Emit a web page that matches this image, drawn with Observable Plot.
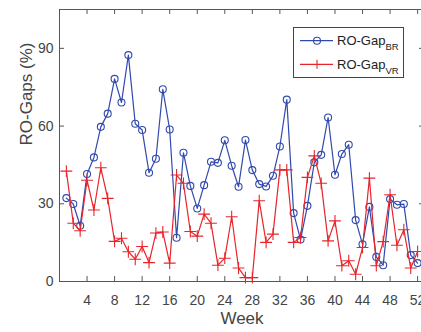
<!DOCTYPE html>
<html><head><meta charset="utf-8">
<script src="https://cdn.jsdelivr.net/npm/d3@7"></script>
<script src="https://cdn.jsdelivr.net/npm/@observablehq/plot@0.6"></script>
<style>
body{margin:0;background:#fff;font-family:"Liberation Sans",Arial,sans-serif;}
#wrap{position:relative;width:421px;height:332px;overflow:hidden;background:#fff;}
#legend{position:absolute;left:293px;top:27px;}
</style></head><body><div id="wrap"><div id="chart"></div><div id="legend"></div></div>
<script>
const weeks = [1,2,3,4,5,6,7,8,9,10,11,12,13,14,15,16,17,18,19,20,21,22,23,24,25,26,27,28,29,30,31,32,33,34,35,36,37,38,39,40,41,42,43,44,45,46,47,48,49,50,51,52];
const gapBR = [32.2,29.9,21.5,41.5,47.9,59.7,64.8,78.2,69.1,87.4,60.9,58.5,42.0,
  47.4,74.2,58.7,16.9,49.7,36.9,28.2,37.2,46.2,45.8,54.5,44.7,36.6,
  54.6,43.0,37.6,36.7,40.8,52.1,70.2,26.4,16.2,29.2,46.0,48.9,63.3,
  41.2,49.2,52.8,23.7,14.4,28.8,9.5,6.3,31.8,29.6,29.9,10.2,7.1];
const gapVR = [42.6,22.5,19.6,39.1,27.6,43.9,32.1,15.5,16.7,11.5,8.6,13.5,7.3,
  18.7,19.1,7.1,41.1,37.9,19.3,17.5,26.0,22.5,6.3,9.0,25.0,5.2,
  1.5,1.5,31.2,15.1,18.3,43.1,43.1,15.1,17.0,40.2,48.5,37.9,15.7,
  23.4,6.1,8.0,2.8,13.1,39.9,6.1,15.4,33.5,14.0,20.0,5.2,11.6];
const xTicks = [4,8,12,16,20,24,28,32,36,40,44,48,52];
const yTicks = [0,30,60,90];
const seriesNames = ["BR","VR"];

const blueC = "#3149ad";
const redC = "#e8242b";
const axisC = "#555";
const textC = "#444";

const br = weeks.map((w,i)=>({week:w, v:gapBR[i]}));
const vr = weeks.map((w,i)=>({week:w, v:gapVR[i]}));

const chart = Plot.plot({
  width: 421, height: 332,
  marginLeft: 59, marginRight: -3, marginTop: 9, marginBottom: 51,
  style: {fontFamily: '"Liberation Sans", Arial, sans-serif', background: "#fff"},
  x: {domain: [0,53]},
  y: {domain: [0,105]},
  marks: [
    Plot.axisX({ticks: xTicks, tickSize: 0, tickPadding: 14, fontSize: 14, color: textC, label: null}),
    Plot.axisY({ticks: yTicks, tickSize: 0, tickPadding: 6, fontSize: 14, color: textC, label: null}),
    Plot.text(["Week"], {frameAnchor: "bottom", dy: 42, fontSize: 17, fill: textC}),
    Plot.text(["RO-Gaps (%)"], {frameAnchor: "left", rotate: -90, dx: -33, fontSize: 17, fill: textC}),
    Plot.ruleY([0], {stroke: axisC}),
    Plot.ruleY([105], {stroke: axisC}),
    Plot.ruleX([0], {stroke: axisC}),
    Plot.ruleX(xTicks, {x: d=>d, y1: 0, y2: 1.9, stroke: axisC}),
    Plot.ruleX(xTicks, {x: d=>d, y1: 105, y2: 103.1, stroke: axisC}),
    Plot.ruleY(yTicks, {y: d=>d, x1: 0, x2: 0.73, stroke: axisC}),
    Plot.ruleY(yTicks, {y: d=>d, x1: 53, x2: 52.27, stroke: axisC}),
    Plot.line(br, {x: "week", y: "v", stroke: blueC, strokeWidth: 1.2}),
    Plot.dot(br, {x: "week", y: "v", r: 3.5, stroke: blueC, fill: "none", strokeWidth: 1.1}),
    Plot.line(vr, {x: "week", y: "v", stroke: redC, strokeWidth: 1.2}),
    Plot.dot(vr, {x: "week", y: "v", symbol: "plus", r: 3.9, stroke: redC, strokeWidth: 1.1})
  ]
});
document.getElementById("chart").appendChild(chart);

// legend
const lg = d3.select("#legend").append("svg").attr("width", 112).attr("height", 52)
  .style("font-family", '"Liberation Sans", Arial, sans-serif');
lg.append("rect").attr("x",0.5).attr("y",0.5).attr("width",110).attr("height",50)
  .attr("fill","#fff").attr("stroke","#444");
const rows = [{c: blueC, ly: 13.7, ty: 17.5, sub: seriesNames[0], m: "circle"},
              {c: redC, ly: 37.3, ty: 41.5, sub: seriesNames[1], m: "plus"}];
rows.forEach(r => {
  lg.append("line").attr("x1",7).attr("x2",40).attr("y1",r.ly).attr("y2",r.ly)
    .attr("stroke", r.c).attr("stroke-width",1.2);
  if (r.m === "circle") {
    lg.append("circle").attr("cx",24).attr("cy",r.ly).attr("r",3.5)
      .attr("fill","none").attr("stroke",r.c).attr("stroke-width",1.1);
  } else {
    lg.append("path").attr("d",`M24,${r.ly-4.5}V${r.ly+4.5}`)
      .attr("stroke",r.c).attr("stroke-width",1.1);
  }
  const t = lg.append("text").attr("x",44).attr("y",r.ty).attr("font-size",13).attr("fill","#222");
  t.append("tspan").text("RO-Gap");
  t.append("tspan").attr("dy",5).attr("font-size",9.5).text(r.sub);
});
</script>
</body></html>
